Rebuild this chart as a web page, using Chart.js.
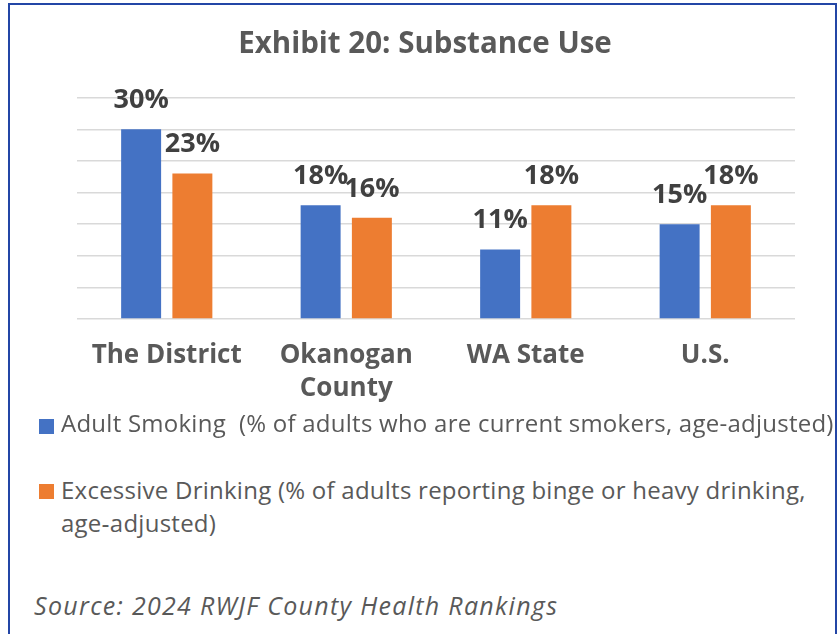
<!DOCTYPE html>
<html>
<head>
<meta charset="utf-8">
<script src="https://cdn.jsdelivr.net/npm/chart.js@4.4.1/dist/chart.umd.min.js"></script>
<style>
    html, body {
        margin: 0;
        padding: 0;
        background: #ffffff;
        width: 840px;
        height: 634px;
        overflow: hidden;
    }
    .frame {
        position: absolute;
        left: 8px;
        top: 3px;
        width: 829px;
        height: 660px;
        border: 2px solid #2346a6;
        box-sizing: border-box;
    }
    #chartWrap {
        position: absolute;
        left: 0;
        top: 0;
        width: 840px;
        height: 420px;
    }
    .legend-item {
        position: absolute;
        left: 39px;
        width: 804px;
        font-family: 'Open Sans', sans-serif;
        font-size: 24px;
        letter-spacing: 0.25px;
        line-height: 33px;
        color: #595959;
    }
    .legend-item .swatch {
        position: absolute;
        left: 0;
        width: 15px;
        height: 15px;
    }
    .legend-item .text {
        margin-left: 22px;
        white-space: pre-wrap;
        hyphens: none;
    }
    .source {
        position: absolute;
        left: 34px;
        top: 588px;
        font-family: 'Open Sans', sans-serif;
        font-style: italic;
        font-size: 25px;
        letter-spacing: 1.3px;
        color: #595959;
        white-space: nowrap;
    }
</style>
</head>
<body>
<div class="frame"></div>
<div id="chartWrap"><canvas id="substanceChart"></canvas></div>
<div id="legend"></div>
<div class="source" id="source"></div>

<script>
// chart values
const chartTitle = 'Exhibit 20: Substance Use';
const categories = [['The District'], ['Okanogan', 'County'], ['WA State'], ['U.S.']];
const seriesNames = [
    'Adult Smoking  (% of adults who are current smokers, age-adjusted)',
    'Excessive Drinking (% of adults reporting binge or heavy drinking, age\u2011adjusted)'
];
const adultSmoking = [30, 18, 11, 15];
const excessiveDrinking = [23, 16, 18, 18];
const seriesColors = ['#4472C4', '#ED7D31'];
const yTicks = [0, 5, 10, 15, 20, 25, 30, 35];
const sourceNote = 'Source: 2024 RWJF County Health Rankings';

const FONT = "'Open Sans', sans-serif";

// percent labels sitting over each bar
const barLabelPlugin = {
    id: 'barLabels',
    afterDatasetsDraw(chart) {
        const ctx = chart.ctx;
        ctx.save();
        ctx.font = 'bold 27px ' + FONT;
        ctx.fillStyle = '#404040';
        ctx.textAlign = 'center';
        ctx.textBaseline = 'middle';
        chart.data.datasets.forEach((ds, i) => {
            const meta = chart.getDatasetMeta(i);
            meta.data.forEach((bar, j) => {
                ctx.fillText(ds.data[j] + '%', bar.x, bar.y - 29);
            });
        });
        ctx.restore();
    }
};

function renderSubstanceChart() {
    const ctx = document.getElementById('substanceChart').getContext('2d');

    new Chart(ctx, {
        type: 'bar',
        data: {
            labels: categories,
            datasets: [{
                label: seriesNames[0],
                data: adultSmoking,
                backgroundColor: seriesColors[0],
                barPercentage: 0.78,
                categoryPercentage: 0.571
            }, {
                label: seriesNames[1],
                data: excessiveDrinking,
                backgroundColor: seriesColors[1],
                barPercentage: 0.78,
                categoryPercentage: 0.571
            }]
        },
        options: {
            responsive: true,
            maintainAspectRatio: false,
            animation: false,
            layout: {
                padding: { left: 55, right: 45, top: 0, bottom: 0 }
            },
            plugins: {
                legend: { display: false },
                tooltip: { enabled: false },
                title: {
                    display: true,
                    text: chartTitle,
                    color: '#595959',
                    font: { family: FONT, size: 29.5, weight: 'bold', lineHeight: 1.2 },
                    padding: { top: 27.3, bottom: 35 }
                }
            },
            scales: {
                x: {
                    grid: { display: false },
                    border: { display: false },
                    ticks: {
                        color: '#595959',
                        padding: 12,
                        maxRotation: 0,
                        autoSkip: false,
                        font: { family: FONT, size: 26, weight: 'bold', lineHeight: 1.27 }
                    },
                    afterFit: (scale) => { scale.height = 101; }
                },
                y: {
                    min: yTicks[0],
                    max: yTicks[yTicks.length - 1],
                    ticks: { display: false, stepSize: yTicks[1] - yTicks[0] },
                    grid: { color: '#d9d9d9', lineWidth: 1.5, drawTicks: false },
                    border: { display: false },
                    // empty gutter so the plot starts where the exhibit's does
                    afterFit: (scale) => { scale.width = 22; }
                }
            }
        },
        plugins: [barLabelPlugin]
    });
}

function renderLegend() {
    const legend = document.getElementById('legend');
    const tops = [406, 472.5];
    const swatchTops = [13, 11.5];
    seriesNames.forEach((name, i) => {
        const item = document.createElement('div');
        item.className = 'legend-item';
        item.style.top = tops[i] + 'px';
        const swatch = document.createElement('div');
        swatch.className = 'swatch';
        swatch.style.top = swatchTops[i] + 'px';
        swatch.style.background = seriesColors[i];
        const text = document.createElement('div');
        text.className = 'text';
        text.textContent = name;
        item.appendChild(swatch);
        item.appendChild(text);
        legend.appendChild(item);
    });
    document.getElementById('source').textContent = sourceNote;
}

renderLegend();
renderSubstanceChart();
</script>
</body>
</html>
